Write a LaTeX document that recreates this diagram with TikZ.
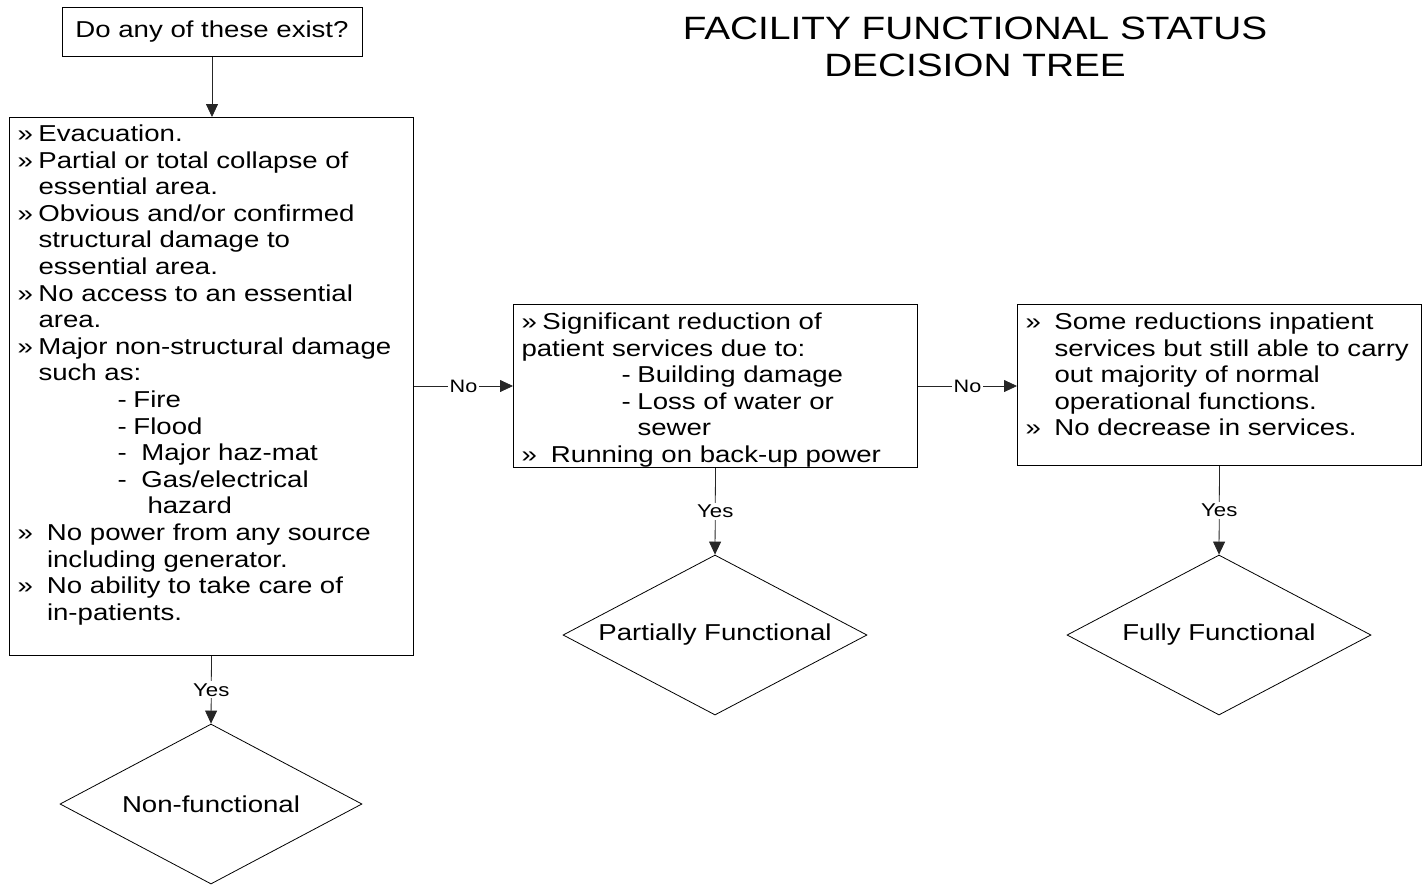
\documentclass[tikz,border=0pt]{standalone}
\usepackage{fontspec}
\setmainfont{Liberation Sans}[FakeStretch=1.2]
\usetikzlibrary{arrows.meta,shapes.geometric}
\newcommand\bx[2]{\makebox[#1][l]{#2}}
\begin{document}
\begin{tikzpicture}[x=1pt,y=-1pt,
  box/.style={draw=black,line width=1pt,inner xsep=8pt,inner ysep=0pt,font=\fontsize{23}{26.6}\selectfont},
  dia/.style={draw=black,line width=0.8pt,diamond,aspect=1.9,inner sep=0pt,minimum width=304pt,minimum height=160pt,font=\fontsize{23}{26.6}\selectfont},
  conn/.style={draw=black!85,line width=0.8pt},
  arr/.style={conn,-{Triangle[length=13pt,width=12pt]}},
  lbl/.style={fill=white,inner sep=2pt},
  nolbl/.style={lbl,font=\fontsize{18}{20}\selectfont},
  yeslbl/.style={lbl,font=\fontsize{18.5}{21}\selectfont}
]
\useasboundingbox (0,0) rectangle (1427,884);

\node[align=center,font=\fontsize{32.3}{37}\selectfont] (title) at (975,46.5) {FACILITY FUNCTIONAL STATUS\\DECISION TREE};

\node[draw=black,line width=1pt,inner sep=0pt,minimum width=300pt,minimum height=49pt,font=\fontsize{23}{26.6}\selectfont] (q) at (212,31.5) {Do any of these exist?};

\node[box,anchor=north west] (crit) at (9,117) {\parbox[c][538pt][t]{388pt}{\raggedright
\rule{0pt}{24pt}\bx{21pt}{»}Evacuation.\\
\bx{21pt}{»}Partial or total collapse of\\
\hspace*{21pt}essential area.\\
\bx{21pt}{»}Obvious and/or confirmed\\
\hspace*{21pt}structural damage to\\
\hspace*{21pt}essential area.\\
\bx{21pt}{»}No access to an essential\\
\hspace*{21pt}area.\\
\bx{21pt}{»}Major non-structural damage\\
\hspace*{21pt}such as:\\
\hspace*{100pt}\bx{16pt}{-}Fire\\
\hspace*{100pt}\bx{16pt}{-}Flood\\
\hspace*{100pt}\bx{24pt}{-}Major haz-mat\\
\hspace*{100pt}\bx{24pt}{-}Gas/electrical\\
\hspace*{130pt}hazard\\
\bx{29.5pt}{»}No power from any source\\
\hspace*{29.5pt}including generator.\\
\bx{29.5pt}{»}No ability to take care of\\
\hspace*{29.5pt}in-patients.}};

\node[box,anchor=north west] (mid) at (513,304) {\parbox[c][163pt][t]{388pt}{\raggedright
\rule{0pt}{25pt}\bx{21pt}{»}Significant reduction of\\
patient services due to:\\
\hspace*{100pt}\bx{16pt}{-}Building damage\\
\hspace*{100pt}\bx{16pt}{-}Loss of water or\\
\hspace*{116pt}sewer\\
\bx{29.5pt}{»}Running on back-up power}};

\node[box,anchor=north west] (right) at (1017,304) {\parbox[c][161pt][t]{388pt}{\raggedright
\rule{0pt}{25pt}\bx{29pt}{»}Some reductions inpatient\\
\hspace*{29pt}services but still able to carry\\
\hspace*{29pt}out majority of normal\\
\hspace*{29pt}operational functions.\\
\bx{29pt}{»}No decrease in services.}};

\node[dia,minimum width=302pt] (nonf) at (211,804) {Non-functional};
\node[dia] (part) at (715,635) {Partially Functional};
\node[dia] (full) at (1219,635) {Fully Functional};

\draw[arr] (q.south) -- (q.south |- crit.north);
\draw[arr] (crit.east |- mid.west) -- node[nolbl] {No} (mid.west);
\draw[arr] (mid.east) -- node[nolbl] {No} (mid.east -| right.west);
\draw[arr] (crit.south) -- node[yeslbl] {Yes} (nonf.north);
\draw[arr] (mid.south) -- node[yeslbl] {Yes} (part.north);
\draw[arr] (right.south) -- node[yeslbl] {Yes} (full.north);
\end{tikzpicture}
\end{document}
